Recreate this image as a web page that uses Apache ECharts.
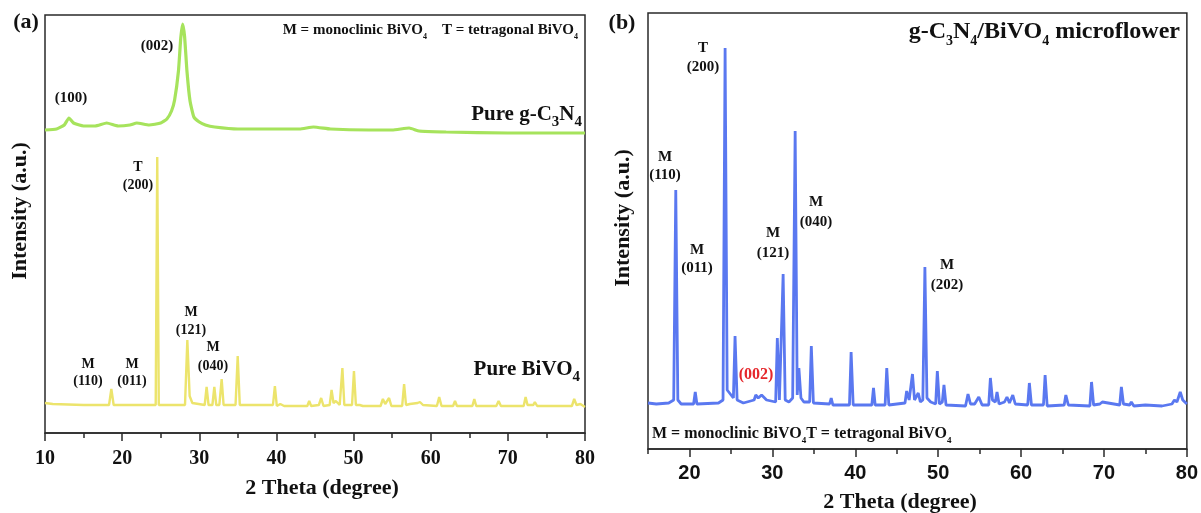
<!DOCTYPE html>
<html>
<head>
<meta charset="utf-8">
<script src="https://cdn.jsdelivr.net/npm/echarts@6/dist/echarts.min.js"></script>
<style>
  html, body { margin: 0; padding: 0; background: #fff; }
  #chart { width: 1201px; height: 513px; }
</style>
</head>
<body>
<div id="chart"></div>
<script>
// (a) pure g-C3N4 (offset upwards) and pure BiVO4
const gcnTheta = [10, 11.5, 12.5, 13.1, 13.7, 15, 16.5, 18, 19.5, 21, 21.9, 23.5, 25, 25.8, 26.4, 26.8, 27.3, 27.6, 27.85, 28.1, 28.4, 28.8, 29.3, 30, 30.8, 32, 35, 40, 43, 44.8, 47, 52, 55, 57.2, 58.5, 62, 70, 80];
const gcnInt = [303, 304, 308, 315, 310, 307, 307, 310, 307, 308, 310, 308, 310, 314, 322, 333, 362, 395, 409, 396, 362, 332, 316, 311, 308, 306, 304, 304, 304, 306, 304, 303, 303, 305, 302, 301, 300, 300];

const bivTheta = [10, 11, 15, 18.3, 18.6, 18.9, 23.5, 23.7, 23.9, 24.35, 24.55, 24.75, 28.15, 28.45, 28.75, 29.1,
  30.7, 30.95, 31.2, 31.7, 31.95, 32.2, 32.6, 32.9, 33.15, 34.7, 34.98, 35.25, 37.3, 37.5, 37.7, 39.55, 39.8, 40.05,
  40.5, 41, 44, 44.25, 44.5, 45.5, 45.8, 46.1, 46.9, 47.15, 47.4, 47.7, 48.2, 48.55, 48.8, 49.8, 50.05, 50.3, 50.8,
  51, 51.2, 53.5, 53.8, 54.1, 54.6, 54.9, 56.3, 56.55, 56.8, 57.3, 58.3, 58.6, 59, 60.8, 61.1, 61.4, 62.9, 63.15,
  63.4, 65.4, 65.65, 65.9, 68.5, 68.8, 69.1, 71.2, 71.4, 71.6, 72.05, 72.3, 72.55, 73.3, 73.5, 73.8, 78.3, 78.6,
  78.9, 79.4, 80];
const bivInt = [30, 29, 28, 28, 44, 28, 28, 30, 28, 28, 276, 28, 28, 93, 37, 30,
  28, 46, 28, 28, 46, 28, 28, 54, 28, 28, 77, 28, 28, 30, 28, 28, 47, 27,
  29, 27, 27, 32, 27, 28, 35, 27, 28, 43, 30, 32, 28, 65, 28, 28, 62, 28, 28,
  30, 27, 27, 34, 29, 35, 27, 27, 49, 28, 29, 30, 31, 28, 27, 36, 27, 27, 32,
  27, 27, 34, 27, 27, 32, 27, 27, 29, 27, 27, 36, 28, 28, 31, 27, 27, 34,
  28, 29, 26];

// (b) g-C3N4/BiVO4 microflower
const compTheta = [15, 16, 17.5, 18.1, 18.35, 18.6, 19, 20.5, 20.7, 20.9, 23.5, 24.05, 24.3, 24.55, 25.3, 25.5, 25.75,
  26.5, 27.8, 28.0, 28.3, 28.7, 29.3, 30.4, 30.6, 30.85, 31.05, 31.3, 31.55, 32.0, 32.45, 32.75, 33.0, 33.2, 33.45,
  33.8, 34.5, 34.7, 34.95, 36.9, 37.1, 37.3, 39.3, 39.5, 39.75, 42.0, 42.2, 42.4, 43.6, 43.8, 44.05, 46.0, 46.2,
  46.5, 46.9, 47.15, 47.6, 47.85, 48.15, 48.4, 48.65, 49.1, 49.7, 49.9, 50.15, 50.5, 50.7, 50.95, 53.3, 53.6, 53.9,
  54.4, 54.9, 55.3, 56.1, 56.3, 56.55, 56.9, 57.1, 57.35, 58.0, 58.3, 58.6, 59.0, 59.3, 60.8, 61.0, 61.25, 62.7,
  62.9, 63.15, 65.2, 65.4, 65.7, 68.3, 68.5, 68.75, 69.5, 69.8, 71.9, 72.1, 72.35, 73.1, 73.3, 73.6, 75, 77, 78.2,
  78.5, 78.8, 79.2, 79.5, 80];
const compInt = [46, 45, 46, 49, 259, 49, 45, 45, 57, 45, 46, 49, 401, 59, 51, 113, 49,
  46, 49, 54, 51, 54, 49, 47, 111, 49, 51, 175, 49, 47, 51, 318, 54, 81, 51,
  47, 47, 103, 46, 45, 51, 44, 44, 97, 44, 44, 61, 44, 44, 81, 44, 46, 58,
  49, 75, 49, 56, 47, 49, 182, 51, 47, 45, 78, 45, 47, 64, 44, 43, 55, 45,
  45, 52, 44, 44, 71, 49, 47, 57, 45, 47, 52, 46, 54, 45, 44, 66, 44, 44,
  74, 43, 44, 54, 44, 43, 67, 44, 45, 47, 44, 62, 45, 44, 47, 43, 44, 43, 45,
  49, 47, 57, 49, 45];

const majorTicksB = [20, 30, 40, 50, 60, 70, 80];

const zip = (xs, ys) => xs.map((x, i) => [x, ys[i]]);

const SERIF = "'Liberation Serif', 'Times New Roman', serif";
const SANS = "'Liberation Sans', Arial, sans-serif";

function txt(x, y, text, size, extra) {
  const el = {
    type: 'text', x: x, y: y, z: 100,
    style: Object.assign({
      text: text,
      fontFamily: SERIF, fontWeight: 'bold', fontSize: size,
      fill: '#111', align: 'center', verticalAlign: 'middle'
    }, extra || {})
  };
  return el;
}

// rich text styles for subscripts
function subRich(size, subSize, drop) {
  return {
    n: { fontFamily: SERIF, fontWeight: 'bold', fontSize: size, lineHeight: size + drop * 2, fill: '#111' },
    s: { fontFamily: SERIF, fontWeight: 'bold', fontSize: subSize, lineHeight: subSize, verticalAlign: 'bottom', fill: '#111' }
  };
}

var chartDom = document.getElementById('chart');
var myChart = echarts.init(chartDom, null, { renderer: 'canvas' });

var option = {
  backgroundColor: '#fff',
  animation: false,
  grid: [
    { left: 45, right: 616, top: 15, bottom: 80, show: true, borderColor: '#2a2a2a', borderWidth: 1.5, backgroundColor: 'transparent' },
    { left: 648, right: 13, top: 13, bottom: 64, show: true, borderColor: '#2a2a2a', borderWidth: 1.5, backgroundColor: 'transparent' }
  ],
  xAxis: [
    {
      gridIndex: 0, type: 'value', min: 10, max: 80, interval: 10,
      axisLine: { show: true, onZero: false, lineStyle: { color: '#2a2a2a', width: 1.5 } },
      axisTick: { show: true, inside: false, length: 8, lineStyle: { color: '#2a2a2a', width: 1.5 } },
      minorTick: { show: true, splitNumber: 2, length: 5, lineStyle: { color: '#2a2a2a', width: 1.5 } },
      splitLine: { show: false },
      axisLabel: { margin: 16, color: '#111', fontFamily: SERIF, fontWeight: 'bold', fontSize: 20 }
    },
    {
      gridIndex: 1, type: 'value', min: 15, max: 80, interval: 5,
      axisLine: { show: true, onZero: false, lineStyle: { color: '#2a2a2a', width: 1.5 } },
      axisTick: { show: true, inside: false, length: 5, lineStyle: { color: '#2a2a2a', width: 1.5 } },
      splitLine: { show: false },
      axisLabel: {
        margin: 14, color: '#111', fontFamily: SANS, fontWeight: 'bold', fontSize: 20,
        formatter: v => (v % 10 === 0 ? String(v) : '')
      }
    },
    {
      gridIndex: 1, type: 'value', min: 15, max: 80, position: 'bottom',
      axisLine: { show: false },
      axisTick: { show: true, inside: false, length: 8, customValues: majorTicksB, lineStyle: { color: '#2a2a2a', width: 1.5 } },
      splitLine: { show: false },
      axisLabel: { show: false }
    }
  ],
  yAxis: [
    { gridIndex: 0, type: 'value', min: 0, max: 418, show: false },
    { gridIndex: 1, type: 'value', min: 0, max: 436, show: false }
  ],
  series: [
    {
      name: 'Pure g-C3N4', type: 'line', xAxisIndex: 0, yAxisIndex: 0,
      data: zip(gcnTheta, gcnInt), showSymbol: false, smooth: 0.15,
      lineStyle: { color: '#a6e35c', width: 3.2 }
    },
    {
      name: 'Pure BiVO4', type: 'line', xAxisIndex: 0, yAxisIndex: 0,
      data: zip(bivTheta, bivInt), showSymbol: false,
      lineStyle: { color: '#ece46c', width: 2.4 }
    },
    {
      name: 'g-C3N4/BiVO4 microflower', type: 'line', xAxisIndex: 1, yAxisIndex: 1,
      data: zip(compTheta, compInt), showSymbol: false,
      lineStyle: { color: '#5a78f0', width: 2.8 }
    }
  ],
  graphic: [
    // panel (a)
    txt(26, 22, '(a)', 22),
    txt(322, 488, '2 Theta (degree)', 22),
    Object.assign(txt(20, 211, 'Intensity (a.u.)', 22), { rotation: Math.PI / 2 }),
    {
      type: 'text', x: 578, y: 30, z: 100,
      style: {
        text: '{n|M = monoclinic BiVO}{s|4}{n|    T = tetragonal BiVO}{s|4}',
        rich: subRich(15, 8, 3), align: 'right', verticalAlign: 'middle'
      }
    },
    txt(157, 46, '(002)', 15),
    txt(71, 98, '(100)', 15),
    {
      type: 'text', x: 582, y: 115, z: 100,
      style: {
        text: '{n|Pure g-C}{s|3}{n|N}{s|4}',
        rich: subRich(21, 15, 4), align: 'right', verticalAlign: 'middle'
      }
    },
    {
      type: 'text', x: 580, y: 370, z: 100,
      style: {
        text: '{n|Pure BiVO}{s|4}',
        rich: subRich(21, 15, 4), align: 'right', verticalAlign: 'middle'
      }
    },
    txt(138, 167, 'T', 14), txt(138, 185, '(200)', 14),
    txt(88, 364, 'M', 14), txt(88, 381, '(110)', 14),
    txt(132, 364, 'M', 14), txt(132, 381, '(011)', 14),
    txt(191, 312, 'M', 14), txt(191, 330, '(121)', 14),
    txt(213, 347, 'M', 14), txt(213, 366, '(040)', 14),

    // panel (b)
    txt(622, 23, '(b)', 22),
    txt(900, 502, '2 Theta (degree)', 22),
    Object.assign(txt(623, 218, 'Intensity (a.u.)', 22), { rotation: Math.PI / 2 }),
    {
      type: 'text', x: 1180, y: 32, z: 100,
      style: {
        text: '{n|g-C}{s|3}{n|N}{s|4}{n|/BiVO}{s|4}{n| microflower}',
        rich: subRich(24, 14, 4), align: 'right', verticalAlign: 'middle'
      }
    },
    {
      type: 'text', x: 652, y: 434, z: 100,
      style: {
        text: '{n|M = monoclinic BiVO}{s|4}{n|T = tetragonal BiVO}{s|4}',
        rich: subRich(16, 9, 3), align: 'left', verticalAlign: 'middle'
      }
    },
    txt(703, 48, 'T', 15), txt(703, 67, '(200)', 15),
    txt(665, 157, 'M', 15), txt(665, 175, '(110)', 15),
    txt(697, 250, 'M', 15), txt(697, 268, '(011)', 15),
    txt(773, 233, 'M', 15), txt(773, 253, '(121)', 15),
    txt(816, 202, 'M', 15), txt(816, 222, '(040)', 15),
    txt(947, 265, 'M', 15), txt(947, 285, '(202)', 15),
    txt(756, 375, '(002)', 16, { fill: '#e5262b' })
  ]
};

myChart.setOption(option);
window.addEventListener('resize', () => myChart.resize());
</script>
</body>
</html>
